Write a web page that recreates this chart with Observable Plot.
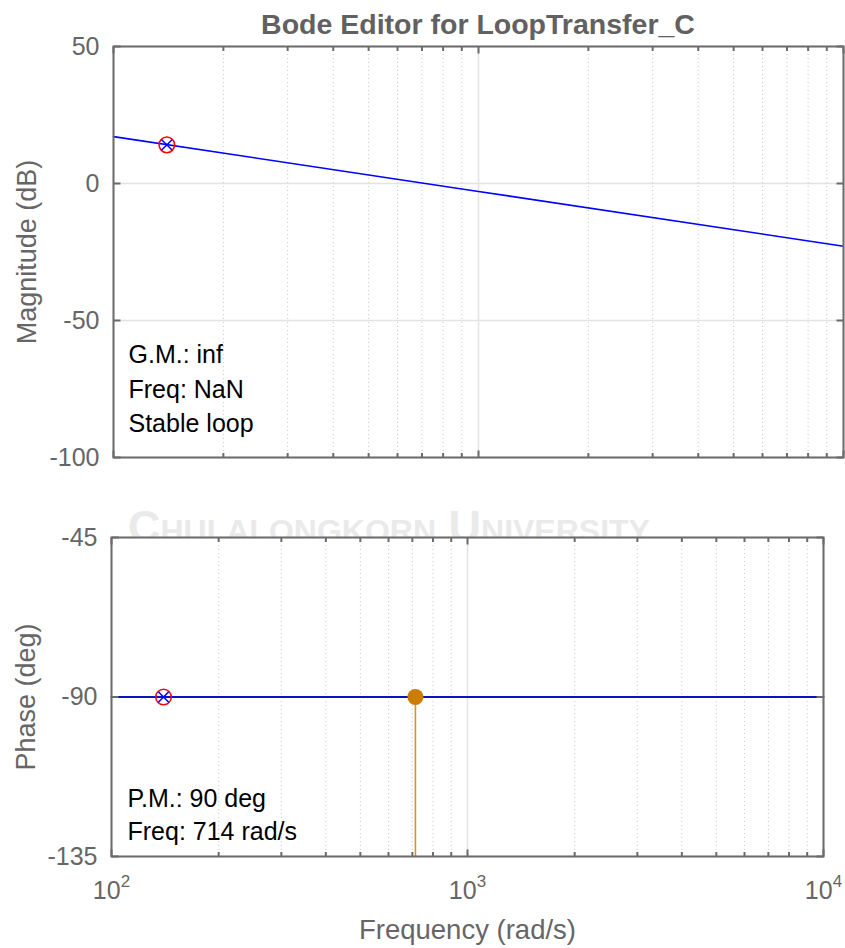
<!DOCTYPE html>
<html><head><meta charset="utf-8">
<script src="https://cdn.jsdelivr.net/npm/d3@7"></script>
<script src="https://cdn.jsdelivr.net/npm/@observablehq/plot@0.6"></script>
<style>
body{margin:0;background:#fff;}
#wrap{position:relative;width:845px;height:948px;overflow:hidden;background:#fff;font-family:"Liberation Sans",Arial,sans-serif;}
#wm{position:absolute;left:128px;top:501px;font-weight:bold;font-size:45px;font-family:"Liberation Sans",Arial,sans-serif;font-variant:small-caps;color:#eaeaea;white-space:nowrap;}
#title{position:absolute;left:113px;width:730px;top:8px;text-align:center;font-weight:bold;font-size:28.5px;font-family:"Liberation Sans",Arial,sans-serif;color:#616161;}
.p{position:absolute;left:0;}
</style></head>
<body><div id="wrap"><div id="wm">Chulalongkorn University</div><div id="title">Bode Editor for LoopTransfer_C</div></div>
<script>
// ---- data ----
const freqMag = [100, 1000, 10000];          // rad/s
const magDb = [17.1, -2.9, -22.9];           // dB
const freqPhase = [100, 10000];              // rad/s
const phaseDeg = [-90, -90];                 // deg
const poleFreq = [140];
const poleMag = [14.1];
const polePhase = [-90];
const pmFreq = [714];
const pmPhase = [-90];
const phaseBottom = [-135];
const majorX = [100, 1000, 10000];
const minorX = [200, 300, 400, 500, 600, 700, 800, 900, 2000, 3000, 4000, 5000, 6000, 7000, 8000, 9000];
const xExponents = ["2", "3", "4"];
const magTicks = [-100, -50, 0, 50];
const phaseTicks = [-135, -90, -45];
const magText = ["G.M.: inf", "Freq: NaN", "Stable loop"];
const phaseText = ["P.M.: 90 deg", "Freq: 714 rad/s"];
const magLabel = ["Magnitude (dB)"];
const phaseLabel = ["Phase (deg)"];
const freqLabel = ["Frequency (rad/s)"];

const FONT = "Liberation Sans, Arial, Helvetica, sans-serif";
const AX = "#6b6b6b";
const LBL = "#666666";
const tickSym = (dx, dy) => ({draw(ctx) { ctx.moveTo(0, 0); ctx.lineTo(dx, dy); }});

function gridMarks(yTicks) {
  return [
    Plot.frame({fill: "white", stroke: "none"}),
    Plot.ruleX(minorX, {stroke: "#c9c9c9", strokeDasharray: "1,3", strokeWidth: 1}),
    Plot.ruleX(majorX, {stroke: "#e3e3e3", strokeWidth: 1.5}),
    Plot.ruleY(yTicks, {stroke: "#e3e3e3", strokeWidth: 1.5})
  ];
}
function frameMarks(yTicks) {
  const o = {stroke: AX, strokeWidth: 2, fill: "none"};
  return [
    Plot.frame({stroke: AX, strokeWidth: 2}),
    Plot.dot(majorX, {x: d => d, frameAnchor: "bottom", symbol: tickSym(0, -7), ...o}),
    Plot.dot(majorX, {x: d => d, frameAnchor: "top", symbol: tickSym(0, 7), ...o}),
    Plot.dot(minorX, {x: d => d, frameAnchor: "bottom", symbol: tickSym(0, -4.5), ...o}),
    Plot.dot(minorX, {x: d => d, frameAnchor: "top", symbol: tickSym(0, 4.5), ...o}),
    Plot.dot(yTicks, {y: d => d, frameAnchor: "left", symbol: tickSym(7, 0), ...o}),
    Plot.dot(yTicks, {y: d => d, frameAnchor: "right", symbol: tickSym(-7, 0), ...o})
  ];
}
const style = {fontFamily: FONT, fontSize: "25px", color: LBL, background: "transparent", overflow: "visible"};

// ---- Magnitude plot ----
const magData = freqMag.map((f, i) => ({f, v: magDb[i]}));
const magPlot = Plot.plot({
  width: 845, height: 470,
  marginLeft: 113, marginRight: 2, marginTop: 46, marginBottom: 13,
  style,
  x: {type: "log", domain: [100, 10000], axis: null},
  y: {domain: [-100, 50], axis: null},
  marks: [
    ...gridMarks(magTicks),
    Plot.line(magData, {x: "f", y: "v", stroke: "#0000ff", strokeWidth: 1.6}),
    Plot.dot(poleFreq.map((f, i) => ({f, v: poleMag[i]})), {x: "f", y: "v", r: 7.8, stroke: "#ff0000", strokeWidth: 1.5, fill: "none"}),
    Plot.dot(poleFreq.map((f, i) => ({f, v: poleMag[i]})), {x: "f", y: "v", r: 4.8, symbol: "times", stroke: "#0000ff", strokeWidth: 1.5}),
    Plot.text([magText.join("\n")], {text: d => d, frameAnchor: "bottom-left", textAnchor: "start", lineAnchor: "middle", dx: 15, dy: -71, lineHeight: 1.38, fontSize: 25, fill: "#000"}),
    Plot.axisY(magTicks, {anchor: "left", tickSize: 0, tickPadding: 14, label: null, tickFormat: d => String(d), fontSize: 25, fill: LBL}),
    Plot.text(magLabel, {text: d => d, frameAnchor: "left", textAnchor: "middle", lineAnchor: "middle", dx: -86, rotate: -90, fontSize: 27, fill: LBL}),
    ...frameMarks(magTicks)
  ]
});
magPlot.classList.add("p"); magPlot.style.top = "0px";

// ---- Phase plot ----
const phData = freqPhase.map((f, i) => ({f, v: phaseDeg[i]}));
const pm = pmFreq.map((f, i) => ({f, v: pmPhase[i], b: phaseBottom[i]}));
const phasePlot = Plot.plot({
  width: 845, height: 478,
  marginLeft: 111, marginRight: 22, marginTop: 67, marginBottom: 92,
  style,
  x: {type: "log", domain: [100, 10000]},
  y: {domain: [-135, -45], axis: null},
  marks: [
    ...gridMarks(phaseTicks),
    Plot.line(phData, {x: "f", y: "v", stroke: "#1010c0", strokeWidth: 2}),
    Plot.ruleX(pm, {x: "f", y1: "b", y2: "v", stroke: "#d79325", strokeWidth: 1.6}),
    Plot.dot(pm, {x: "f", y: "v", r: 8, fill: "#cc7d00", stroke: "none"}),
    Plot.dot(poleFreq.map((f, i) => ({f, v: polePhase[i]})), {x: "f", y: "v", r: 7.8, stroke: "#ff0000", strokeWidth: 1.5, fill: "none"}),
    Plot.dot(poleFreq.map((f, i) => ({f, v: polePhase[i]})), {x: "f", y: "v", r: 4.8, symbol: "times", stroke: "#0000ff", strokeWidth: 1.5}),
    Plot.text([phaseText.join("\n")], {text: d => d, frameAnchor: "bottom-left", textAnchor: "start", lineAnchor: "middle", dx: 16, dy: -44, lineHeight: 1.32, fontSize: 25, fill: "#000"}),
    Plot.axisY(phaseTicks, {anchor: "left", tickSize: 0, tickPadding: 14, label: null, tickFormat: d => String(d), fontSize: 25, fill: LBL}),
    Plot.axisX(majorX, {anchor: "bottom", tickSize: 0, tickPadding: 25, label: null, tickFormat: () => "10", fontSize: 25, fill: LBL}),
    Plot.text(phaseLabel, {text: d => d, frameAnchor: "left", textAnchor: "middle", lineAnchor: "middle", dx: -85, rotate: -90, fontSize: 27, fill: LBL}),
    Plot.text(freqLabel, {text: d => d, frameAnchor: "bottom", lineAnchor: "middle", dy: 74, fontSize: 27.5, fill: LBL}),
    ...frameMarks(phaseTicks)
  ]
});
phasePlot.classList.add("p"); phasePlot.style.top = "470px";

// superscript exponents on the x tick labels
const NS = "http://www.w3.org/2000/svg";
phasePlot.querySelectorAll('g[aria-label="x-axis tick label"] text').forEach((t, i) => {
  const ts = document.createElementNS(NS, "tspan");
  ts.setAttribute("dy", "-0.7em");
  ts.setAttribute("font-size", "0.68em");
  ts.textContent = xExponents[i];
  t.appendChild(ts);
});

const wrap = document.getElementById("wrap");
wrap.appendChild(magPlot);
wrap.appendChild(phasePlot);
</script>
</body></html>
